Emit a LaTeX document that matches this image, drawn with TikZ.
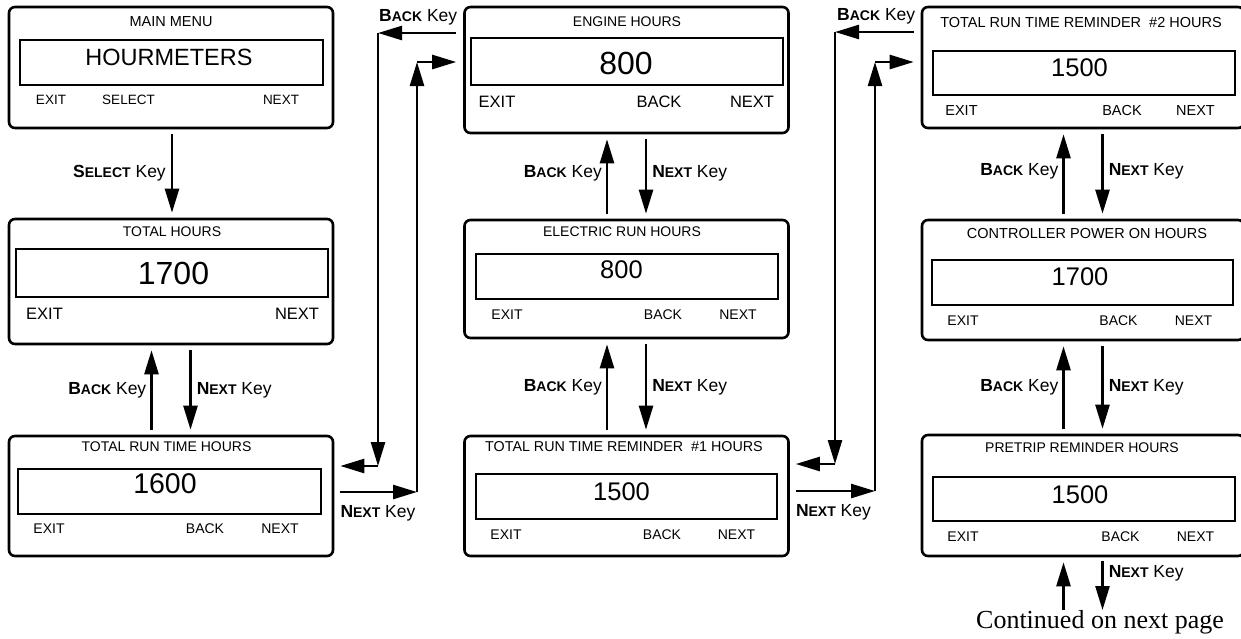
\documentclass[tikz,border=0pt]{standalone}
\usepackage{fontspec}
\setmainfont{Liberation Sans}
\newfontfamily\contfont{Liberation Serif}
\usepackage{tikz}
\usetikzlibrary{arrows.meta, positioning, calc}
\newcommand{\fsz}[1]{\fontsize{#1}{#1}\selectfont}
\newcommand{\keyname}[2]{\textbf{#1{\fsz{14}#2}} Key}

\begin{document}
\begin{tikzpicture}[
      x=1pt, y=-1pt,
      screen/.style={draw, line width=2.6pt, rounded corners=6pt, inner sep=0pt},
      disp/.style={draw, line width=1.1pt, inner sep=0pt},
      txt/.style={inner sep=0pt, font=\fsz{#1}},
      keylbl/.style={inner sep=0pt, font=\fsz{17.5}},
      arr/.style={-{Triangle[length=24pt, width=14pt]}, line width=2.5pt},
      gap/.style={shorten <=#1, shorten >=#1},
    ]
      \useasboundingbox (0,0) rectangle (1241,638);

      % left column
      \node[screen, minimum width=324pt, minimum height=121pt] (mm) at (171,67.5) {};
      \node[disp, minimum width=303pt, minimum height=45pt] (mm-d) at (171.5,62.5) {};
      \node[txt=14.5] (mm-t) at (171,22) {MAIN MENU};
      \node[txt=23.5] (mm-v) at (169,57) {HOURMETERS};
      \node[txt=13.5] (mm-k1) at (51,100) {EXIT};
      \node[txt=13.5] (mm-k2) at (128.5,100) {SELECT};
      \node[txt=13.5] (mm-k3) at (281,100) {NEXT};

      \node[screen, minimum width=324pt, minimum height=125pt] (tot) at (171,281.5) {};
      \node[disp, minimum width=312pt, minimum height=48pt] (tot-d) at (172,273) {};
      \node[txt=14] (tot-t) at (172,232) {TOTAL HOURS};
      \node[txt=32] (tot-v) at (173.5,273) {1700};
      \node[txt=16.5] (tot-k1) at (44.5,314) {EXIT};
      \node[txt=16.5] (tot-k3) at (297,314) {NEXT};

      \node[screen, minimum width=324pt, minimum height=120pt] (trt) at (171,496) {};
      \node[disp, minimum width=303pt, minimum height=45pt] (trt-d) at (169.5,491.5) {};
      \node[txt=14] (trt-t) at (166.5,447) {TOTAL RUN TIME HOURS};
      \node[txt=28.5] (trt-v) at (165,484) {1600};
      \node[txt=14] (trt-k1) at (49,529) {EXIT};
      \node[txt=14] (trt-k2) at (205,529) {BACK};
      \node[txt=14] (trt-k3) at (280,529) {NEXT};

      % middle column
      \node[screen, minimum width=324pt, minimum height=126pt] (eng) at (626.5,70) {};
      \node[disp, minimum width=312pt, minimum height=47pt] (eng-d) at (627,61.5) {};
      \node[txt=14] (eng-t) at (627,22) {ENGINE HOURS};
      \node[txt=32] (eng-v) at (626,63) {800};
      \node[txt=16.5] (eng-k1) at (497,102) {EXIT};
      \node[txt=16.5] (eng-k2) at (659,102) {BACK};
      \node[txt=16.5] (eng-k3) at (752,102) {NEXT};

      \node[screen, minimum width=324pt, minimum height=118pt] (elec) at (626.5,279) {};
      \node[disp, minimum width=302pt, minimum height=45pt] (elec-d) at (627,276.5) {};
      \node[txt=14] (elec-t) at (622,232) {ELECTRIC RUN HOURS};
      \node[txt=25.5] (elec-v) at (621.5,270) {800};
      \node[txt=14] (elec-k1) at (507,315) {EXIT};
      \node[txt=14] (elec-k2) at (663,315) {BACK};
      \node[txt=14] (elec-k3) at (738,315) {NEXT};

      \node[screen, minimum width=324pt, minimum height=120pt] (rem1) at (626.5,496) {};
      \node[disp, minimum width=301pt, minimum height=45pt] (rem1-d) at (626.5,496.5) {};
      \node[txt=14.3] (rem1-t) at (624,447) {TOTAL RUN TIME REMINDER\ \ \#1 HOURS};
      \node[txt=25.5] (rem1-v) at (621.5,492) {1500};
      \node[txt=14] (rem1-k1) at (506,535) {EXIT};
      \node[txt=14] (rem1-k2) at (662,535) {BACK};
      \node[txt=14] (rem1-k3) at (736.5,535) {NEXT};

      % right column
      \node[screen, minimum width=322pt, minimum height=121pt] (rem2) at (1083,67.5) {};
      \node[disp, minimum width=302pt, minimum height=44pt] (rem2-d) at (1084,73) {};
      \node[txt=14.5] (rem2-t) at (1081,23) {TOTAL RUN TIME REMINDER\ \ \#2 HOURS};
      \node[txt=25.5] (rem2-v) at (1079.5,68) {1500};
      \node[txt=14.5] (rem2-k1) at (961.5,111) {EXIT};
      \node[txt=14.5] (rem2-k2) at (1122,111) {BACK};
      \node[txt=14.5] (rem2-k3) at (1195.5,111) {NEXT};

      \node[screen, minimum width=322pt, minimum height=120pt] (ctrl) at (1083,280) {};
      \node[disp, minimum width=301pt, minimum height=45pt] (ctrl-d) at (1082.5,282.5) {};
      \node[txt=14.5] (ctrl-t) at (1087,234) {CONTROLLER POWER ON HOURS};
      \node[txt=25.5] (ctrl-v) at (1080,277) {1700};
      \node[txt=14] (ctrl-k1) at (963,321) {EXIT};
      \node[txt=14] (ctrl-k2) at (1118.5,321) {BACK};
      \node[txt=14] (ctrl-k3) at (1193.5,321) {NEXT};

      \node[screen, minimum width=322pt, minimum height=121pt] (pre) at (1083,495.5) {};
      \node[disp, minimum width=302pt, minimum height=44pt] (pre-d) at (1084,499) {};
      \node[txt=14] (pre-t) at (1082,448) {PRETRIP REMINDER HOURS};
      \node[txt=25.5] (pre-v) at (1080,495) {1500};
      \node[txt=14] (pre-k1) at (963,537) {EXIT};
      \node[txt=14] (pre-k2) at (1120.5,537) {BACK};
      \node[txt=14] (pre-k3) at (1195.5,537) {NEXT};

      % up and down keys
      \draw[arr, gap=5pt] ([xshift=1pt]mm.south) -- node[keylbl, anchor=east, xshift=-5pt] (sel-lbl) {\keyname{S}{ELECT}} ([xshift=1pt]tot.north);
      \draw[arr, gap=5pt] ([xshift=-19.5pt]trt.north) -- node[keylbl, anchor=east, xshift=-4pt] (bk-lbl1) {\keyname{B}{ACK}} ([xshift=-19.5pt]tot.south);
      \draw[arr, gap=5pt] ([xshift=19.5pt]tot.south) -- node[keylbl, anchor=west, xshift=5pt] (nx-lbl1) {\keyname{N}{EXT}} ([xshift=19.5pt]trt.north);
      \draw[arr, gap=5pt] ([xshift=-19.5pt]elec.north) -- node[keylbl, anchor=east, xshift=-4pt, yshift=3pt] (bk-lbl2) {\keyname{B}{ACK}} ([xshift=-19.5pt]eng.south);
      \draw[arr, gap=5pt] ([xshift=19.5pt]eng.south) -- node[keylbl, anchor=west, xshift=5pt, yshift=3pt] (nx-lbl2) {\keyname{N}{EXT}} ([xshift=19.5pt]elec.north);
      \draw[arr, gap=5pt] ([xshift=-19.5pt]rem1.north) -- node[keylbl, anchor=east, xshift=-4pt] (bk-lbl3) {\keyname{B}{ACK}} ([xshift=-19.5pt]elec.south);
      \draw[arr, gap=5pt] ([xshift=19.5pt]elec.south) -- node[keylbl, anchor=west, xshift=5pt] (nx-lbl3) {\keyname{N}{EXT}} ([xshift=19.5pt]rem1.north);
      \draw[arr, gap=5pt] ([xshift=-19.5pt]ctrl.north) -- node[keylbl, anchor=east, xshift=-4pt, yshift=3pt] (bk-lbl4) {\keyname{B}{ACK}} ([xshift=-19.5pt]rem2.south);
      \draw[arr, gap=5pt] ([xshift=19.5pt]rem2.south) -- node[keylbl, anchor=west, xshift=5pt, yshift=3pt] (nx-lbl4) {\keyname{N}{EXT}} ([xshift=19.5pt]ctrl.north);
      \draw[arr, gap=5pt] ([xshift=-19.5pt]pre.north) -- node[keylbl, anchor=east, xshift=-4pt] (bk-lbl5) {\keyname{B}{ACK}} ([xshift=-19.5pt]ctrl.south);
      \draw[arr, gap=5pt] ([xshift=19.5pt]ctrl.south) -- node[keylbl, anchor=west, xshift=5pt] (nx-lbl5) {\keyname{N}{EXT}} ([xshift=19.5pt]pre.north);

      % column to column
      \coordinate (b1) at (378,33);
      \coordinate (b2) at (378,466);
      \coordinate (n1) at (417,492);
      \coordinate (n2) at (417,62);
      \draw[arr, shorten <=7pt] (eng.west |- b1) -- (b1);
      \draw[arr] (b1) -- (b2);
      \draw[arr, shorten >=6pt] (b2) -- (trt.east |- b2);
      \draw[arr, shorten <=6pt] (trt.east |- n1) -- (n1);
      \draw[arr] (n1) -- (n2);
      \draw[arr, shorten >=7pt] (n2) -- (eng.west |- n2);
      \node[keylbl, anchor=base west, xshift=1pt, yshift=12pt] (bk-top1) at (b1) {\keyname{B}{ACK}};
      \node[keylbl, anchor=base west, xshift=6pt, yshift=-25pt] (nx-bot1) at (trt.east |- n1) {\keyname{N}{EXT}};

      \coordinate (b3) at (835,32);
      \coordinate (b4) at (835,464);
      \coordinate (n3) at (875,491);
      \coordinate (n4) at (875,62);
      \draw[arr, shorten <=7pt] (rem2.west |- b3) -- (b3);
      \draw[arr] (b3) -- (b4);
      \draw[arr, shorten >=6pt] (b4) -- (rem1.east |- b4);
      \draw[arr, shorten <=6pt] (rem1.east |- n3) -- (n3);
      \draw[arr] (n3) -- (n4);
      \draw[arr, shorten >=7pt] (n4) -- (rem2.west |- n4);
      \node[keylbl, anchor=base west, xshift=2pt, yshift=12pt] (bk-top2) at (b3) {\keyname{B}{ACK}};
      \node[keylbl, anchor=base west, xshift=6pt, yshift=-25pt] (nx-bot2) at (rem1.east |- n3) {\keyname{N}{EXT}};

      % next page
      \coordinate (cont-l) at (1063.5,610);
      \coordinate (cont-r) at (1102.5,610);
      \draw[arr, shorten >=5pt] (cont-l) -- (cont-l |- pre.south);
      \draw[arr, shorten <=4pt] (pre.south -| cont-r) -- node[keylbl, pos=0.3, anchor=west, xshift=5pt] (nx-lbl6) {\keyname{N}{EXT}} (cont-r);
      \node[inner sep=0pt, anchor=base, font=\contfont\fsz{26}] (cont) at (1100,628) {Continued on next page};
    \end{tikzpicture}
\end{document}
